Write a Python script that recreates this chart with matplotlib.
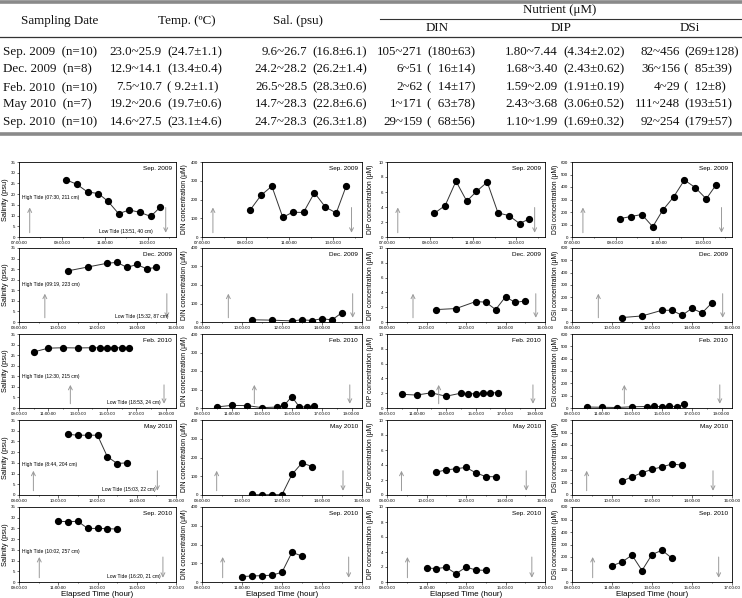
import matplotlib
matplotlib.use('Agg')
import numpy as np
import matplotlib.pyplot as plt
from matplotlib.ticker import MultipleLocator, FixedLocator, FuncFormatter
from matplotlib.lines import Line2D

W, H = 742, 598
fig = plt.figure(figsize=(W / 100, H / 100), dpi=100)

# ---------------- table data ----------------
tbl_dates = ["Sep. 2009  (n=10)", "Dec. 2009  (n=8)", "Feb. 2010  (n=10)", "May 2010  (n=7)", "Sep. 2010  (n=10)"]
tbl_temp_rng = ["23.0~25.9", "12.9~14.1", "7.5~10.7", "19.2~20.6", "14.6~27.5"]
tbl_temp_ms = ["(24.7±1.1)", "(13.4±0.4)", "( 9.2±1.1)", "(19.7±0.6)", "(23.1±4.6)"]
tbl_sal_rng = ["9.6~26.7", "24.2~28.2", "26.5~28.5", "14.7~28.3", "24.7~28.3"]
tbl_sal_ms = ["(16.8±6.1)", "(26.2±1.4)", "(28.3±0.6)", "(22.8±6.6)", "(26.3±1.8)"]
tbl_din_rng = ["105~271", "6~51", "2~62", "1~171", "29~159"]
tbl_din_ms = ["(180±63)", "(  16±14)", "(  14±17)", "(  63±78)", "(  68±56)"]
tbl_dip_rng = ["1.80~7.44", "1.68~3.40", "1.59~2.09", "2.43~3.68", "1.10~1.99"]
tbl_dip_ms = ["(4.34±2.02)", "(2.43±0.62)", "(1.91±0.19)", "(3.06±0.52)", "(1.69±0.32)"]
tbl_dsi_rng = ["82~456", "36~156", "4~29", "111~248", "92~254"]
tbl_dsi_ms = ["(269±128)", "(  85±39)", "(  12±8)", "(193±51)", "(179±57)"]

# ---------------- time-series data ----------------
periods = ["Sep. 2009", "Dec. 2009", "Feb. 2010", "May 2010", "Sep. 2010"]

sep09_t = [9.2, 9.7, 10.2, 10.7, 11.15, 11.65, 12.15, 12.65, 13.15, 13.6]
sep09_sal = [26.7, 24.6, 21.0, 20.3, 16.7, 10.9, 12.6, 11.5, 9.6, 14.0]
sep09_din = [143, 222, 271, 105, 132, 131, 236, 160, 128, 270]
sep09_dip = [3.17, 4.20, 7.44, 4.78, 6.07, 7.32, 3.21, 2.86, 1.80, 2.41]
sep09_dsi = [147, 164, 180, 82, 213, 319, 456, 395, 305, 417]

dec09_t = [10.5, 11.5, 12.5, 13.0, 13.5, 14.0, 14.5, 15.0]
dec09_sal = [24.2, 26.0, 27.8, 28.2, 25.8, 27.2, 25.2, 25.8]
dec09_din = [12, 10, 6, 12, 8, 18, 11, 51]
dec09_dip = [1.68, 1.82, 2.77, 2.68, 1.68, 3.40, 2.64, 2.86]
dec09_dsi = [36, 49, 95, 95, 54, 111, 73, 156]

feb10_t = [10.0, 11.0, 12.0, 13.0, 14.0, 14.5, 15.0, 15.5, 16.0, 16.5]
feb10_sal = [26.5, 28.3, 28.5, 28.4, 28.5, 28.5, 28.5, 28.5, 28.5, 28.5]
feb10_din = [6, 14, 13, 2, 5, 14, 62, 7, 5, 12]
feb10_dip = [1.85, 1.75, 2.05, 1.59, 2.00, 1.90, 1.95, 2.00, 2.02, 2.09]
feb10_dsi = [8, 6, 4, 10, 12, 14, 10, 16, 11, 29]

may10_t = [10.5, 11.0, 11.5, 12.0, 12.5, 13.0, 13.5]
may10_sal = [28.3, 27.9, 27.9, 27.9, 17.9, 14.7, 15.0]
may10_din = [3, 1, 2, 2, 110, 171, 152]
may10_dip = [3.05, 3.35, 3.50, 3.68, 2.95, 2.46, 2.43]
may10_dsi = [111, 145, 178, 205, 225, 248, 239]

sep10_t = [11.0, 11.5, 12.0, 12.5, 13.0, 13.5, 14.0]
sep10_sal = [28.3, 28.2, 28.3, 25.0, 25.0, 24.9, 24.7]
sep10_din = [29, 32, 34, 36, 52, 159, 138]
sep10_dip = [1.85, 1.80, 1.95, 1.10, 1.99, 1.60, 1.55]
sep10_dsi = [130, 160, 215, 92, 220, 254, 190]

times = [sep09_t, dec09_t, feb10_t, may10_t, sep10_t]
series = [
    [sep09_sal, sep09_din, sep09_dip, sep09_dsi],
    [dec09_sal, dec09_din, dec09_dip, dec09_dsi],
    [feb10_sal, feb10_din, feb10_dip, feb10_dsi],
    [may10_sal, may10_din, may10_dip, may10_dsi],
    [sep10_sal, sep10_din, sep10_dip, sep10_dsi],
]

high_tide_lbl = ["High Tide (07:30, 211 cm)", "High Tide (09:19, 223 cm)", "High Tide (12:30, 215 cm)",
                 "High Tide (8:44, 204 cm)", "High Tide (10:02, 257 cm)"]
low_tide_lbl = ["Low Tide (13:51, 40 cm)", "Low Tide (15:32, 87 cm)", "Low Tide (18:53, 24 cm)",
                "Low Tide (15:03, 22 cm)", "Low Tide (16:20, 21 cm)"]
high_tide_t = [7 + 30 / 60, 9 + 19 / 60, 12 + 30 / 60, 8 + 44 / 60, 10 + 2 / 60]
low_tide_t = [13 + 51 / 60, 15 + 32 / 60, 18 + 53 / 60, 15 + 3 / 60, 16 + 20 / 60]

ylabels = ["Salinity (psu)", "DIN concentration (\u03bcM)", "DIP concentration (\u03bcM)", "DSi concentration (\u03bcM)"]
xlabel = "Elapsed Time (hour)"

# ---------------- styles / layout ----------------
SANS = ['Liberation Sans', 'DejaVu Sans']
SERIF = ['Liberation Serif', 'DejaVu Serif']

xlims = [(7.0, 14.33), (8.0, 16.0), (9.0, 19.7), (8.0, 16.0), (9.0, 17.0)]
xtick_start = [7, 8, 9, 8, 9]
ylims = [(0, 35), (0, 400), (0, 10), (0, 600)]
ysteps = [5, 100, 2, 100]
arrow_top = [0.43, 0.42, 0.35, 0.36, 0.37]
high_txt_y = [0.53, 0.51, 0.42, 0.41, 0.41]
low_txt_x = [0.85, 0.95, 0.90, 0.87, 0.90]

col_lr = [(19, 176), (202, 362), (387, 545), (572, 732)]
row_tb = [(162, 237), (248, 322), (334, 408), (420, 495), (507, 582)]
ylab_x = [6, 185, 371, 556]


def fx(x):
    return x / W


def fy(y):
    return 1 - y / H


# ---------------- table ----------------
def ttext(x, y, s, ha='center', size=9.4):
    fig.text(fx(x), fy(y), s, ha=ha, va='center', fontsize=size, family=SERIF, color='#111111')


def hline(x0, x1, y, lw, color):
    fig.add_artist(Line2D([fx(x0), fx(x1)], [fy(y), fy(y)], transform=fig.transFigure, lw=lw, color=color))


hline(0, W, 2, 2.6, '#8a8a8a')
hline(380, W, 19, 0.8, '#333333')
hline(0, W, 37, 0.9, '#333333')
hline(0, W, 134, 2.6, '#8a8a8a')

ttext(60, 21, "Sampling Date")
ttext(187, 21, "Temp. (\u00baC)")
ttext(298, 21, "Sal. (psu)")
ttext(560, 10, "Nutrient (\u03bcM)")
ttext(437, 28, "DIN")
ttext(561, 28, "DIP")
ttext(690, 28, "DSi")

row_y = [52, 69, 87, 104, 122]
for i, y in enumerate(row_y):
    ttext(3, y, tbl_dates[i], ha='left')
    ttext(162, y, tbl_temp_rng[i], ha='right')
    ttext(167, y, tbl_temp_ms[i], ha='left')
    ttext(307, y, tbl_sal_rng[i], ha='right')
    ttext(312, y, tbl_sal_ms[i], ha='left')
    ttext(423, y, tbl_din_rng[i], ha='right')
    ttext(427, y, tbl_din_ms[i], ha='left')
    ttext(558, y, tbl_dip_rng[i], ha='right')
    ttext(563, y, tbl_dip_ms[i], ha='left')
    ttext(680, y, tbl_dsi_rng[i], ha='right')
    ttext(684, y, tbl_dsi_ms[i], ha='left')

# ---------------- panels ----------------
hfmt = FuncFormatter(lambda v, p: "%02d:00:00" % int(round(v)))

for r in range(5):
    top, bot = row_tb[r]
    majors = np.arange(xtick_start[r], xlims[r][1] + 0.01, 2)
    minors = np.arange(xtick_start[r], xlims[r][1] + 0.01, 1)
    for c in range(4):
        l, rr = col_lr[c]
        ax = fig.add_axes([fx(l), fy(bot), (rr - l) / W, (bot - top) / H])
        ax.plot(times[r], series[r][c], '-', color='#333333', lw=0.7,
                marker='o', ms=4.2, mfc='black', mec='black', zorder=3)
        ax.set_xlim(*xlims[r])
        ax.set_ylim(*ylims[c])
        ax.xaxis.set_major_locator(FixedLocator(majors))
        ax.xaxis.set_minor_locator(FixedLocator(minors))
        ax.xaxis.set_major_formatter(hfmt)
        ax.yaxis.set_major_locator(MultipleLocator(ysteps[c]))
        ax.tick_params(which='both', direction='out', labelsize=3.2, width=0.4, pad=0.8)
        ax.tick_params(which='major', length=1.8)
        ax.tick_params(which='minor', length=1.0)
        for lab in ax.get_xticklabels() + ax.get_yticklabels():
            lab.set_family(SANS)
        for s in ax.spines.values():
            s.set_linewidth(0.6)
        ax.text(0.975, 0.95, periods[r], transform=ax.transAxes, ha='right', va='top',
                fontsize=4.6, family=SANS)
        ax.set_ylabel(ylabels[c], fontsize=5.3 if c == 0 else 4.9, family=SANS)
        ax.yaxis.set_label_coords((ylab_x[c] + 3 - l) / (rr - l), 0.5)
        # tide arrows
        ax.annotate('', xy=(high_tide_t[r], arrow_top[r]), xytext=(high_tide_t[r], 0.02),
                    xycoords=('data', 'axes fraction'), textcoords=('data', 'axes fraction'),
                    arrowprops=dict(arrowstyle='->', color='#9a9a9a', lw=0.7, mutation_scale=7))
        ax.annotate('', xy=(low_tide_t[r], 0.02), xytext=(low_tide_t[r], arrow_top[r]),
                    xycoords=('data', 'axes fraction'), textcoords=('data', 'axes fraction'),
                    arrowprops=dict(arrowstyle='->', color='#9a9a9a', lw=0.7, mutation_scale=7))
        if c == 0:
            ax.text(0.02, high_txt_y[r], high_tide_lbl[r], transform=ax.transAxes,
                    ha='left', va='center', fontsize=3.6, family=SANS)
            ax.text(low_txt_x[r], 0.07, low_tide_lbl[r], transform=ax.transAxes,
                    ha='right', va='center', fontsize=3.6, family=SANS)
        if r == 4:
            fig.text(fx((l + rr) / 2), fy(594), xlabel, ha='center', va='center',
                     fontsize=5.8, family=SANS)

fig.savefig('out.png', dpi=100)
